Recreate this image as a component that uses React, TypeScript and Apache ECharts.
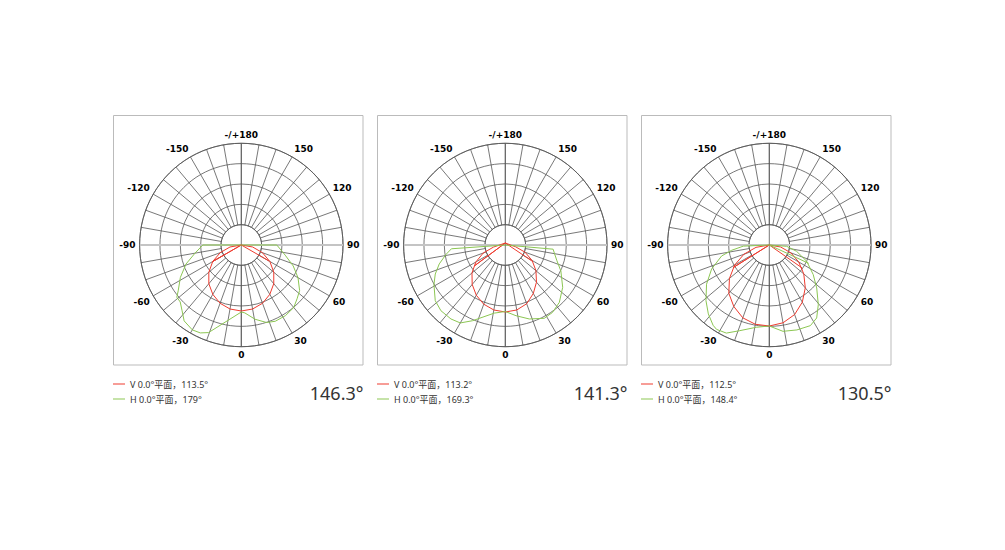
import React, { useEffect, useRef } from "react";
import * as echarts from "echarts";

// ---- data (angle in degrees, 0 = down, + to the right; value = intensity) ----
const ANGLE_TICKS = [0, 30, 60, 90, 120, 150, 180, 210, 240, 270, 300, 330];
const ANGLE_LABELS = ["0", "30", "60", "90", "120", "150", "-/+180", "-150", "-120", "-90", "-60", "-30"];

const V_NAMES = ["V 0.0°平面，113.5°", "V 0.0°平面，113.2°", "V 0.0°平面，112.5°"];
const H_NAMES = ["H 0.0°平面，179°", "H 0.0°平面，169.3°", "H 0.0°平面，148.4°"];
const BEAM_ANGLES = ["146.3°", "141.3°", "130.5°"];

const RED_1: number[][] = [
  [90, 0], [80, 11.5], [70, 22.5], [60, 33], [50, 42.4], [40, 50.5], [30, 57], [20, 62], [10, 65], [0, 66],
  [-10, 65], [-20, 62], [-30, 57], [-40, 50.5], [-50, 42.4], [-60, 33], [-70, 22.5], [-80, 11.5], [-90, 0],
  [-60, 33], [-90, 0], [60, 32],
];
const GREEN_1: number[][] = [
  [-90, 38.5], [-80, 47], [-71, 58.5], [-62, 69], [-54, 78], [-51, 83], [-47, 83.5], [-42, 88.5], [-37, 95],
  [-30, 98], [-25, 97], [-20.5, 93.5], [0, 67], [3, 68], [10.5, 75.5], [18, 81.5], [24, 83.5], [32, 83.3],
  [40, 81.6], [46, 77.5], [52, 74], [60, 65.5], [68, 56], [77, 45], [90, 35.5], [180, 0], [-90, 38.5],
];
const RED_2: number[][] = [
  [180, 2], [80, 10.5], [70, 21], [60, 31], [50, 40], [40, 48.5], [30, 56], [20, 62.5], [10, 66], [0, 67],
  [-10, 66], [-20, 63], [-30, 58], [-40, 51.5], [-50, 43.5], [-60, 34], [-70, 23.5], [-80, 12], [180, 2],
  [-56, 37], [180, 2], [59, 31],
];
const GREEN_2: number[][] = [
  [-86, 54], [-81, 60], [-74, 68.7], [-67.5, 75.8], [-61, 81.6], [-51.5, 89.5], [-44.4, 92], [-36.3, 91.8],
  [-30, 90], [-23.4, 82.5], [-9.2, 69], [0, 66.5], [8.6, 71.5], [18, 77.8], [28, 83], [35, 82.3],
  [43.3, 78.8], [53.6, 71.3], [65, 61.3], [73, 54], [80, 50], [85, 48], [180, 0], [-86, 54],
];
const RED_3: number[][] = [
  [90, 0], [80, 11.5], [70, 23], [60, 34], [50, 45], [40, 56], [30, 66], [20, 74], [10, 79], [0, 81],
  [-10, 80.5], [-20, 77.5], [-30, 71], [-40, 63], [-50, 52], [-60, 40], [-70, 27], [-80, 13.5], [-90, 0],
  [-58, 42.5], [-90, 0], [55, 40],
];
const GREEN_3: number[][] = [
  [180, 0], [-87.5, 26], [-82, 38], [-77, 49], [-67.4, 62.5], [-58, 74], [-48.7, 84.3], [-41.5, 92],
  [-35, 98], [-32, 99.5], [-26, 98], [-19, 90.6], [-9, 83.3], [0, 81], [9, 87.4], [18, 89.3], [27, 90.5],
  [33, 87], [39.4, 77.2], [47.8, 64], [56, 53], [66.5, 40.8], [77, 28], [85.7, 17.4], [180, 0], [65, 43.4],
];

const REDS = [RED_1, RED_2, RED_3];
const GREENS = [GREEN_1, GREEN_2, GREEN_3];

const RED = "#ee3b2f";
const GREEN = "#8cc653";
const GRID = "#555";
const CX = [241.3, 505.3, 769.3];
const CY = 245;
const R_OUT = 101.7;
const R_IN = 20.3;
const BOX_X = [113.5, 377.5, 641.5];

const toPolar = (pts: number[][]) => pts.map(([a, v]) => [v, a < 0 ? a + 360 : a]);

function buildOption() {
  const polar: any[] = [];
  const angleAxis: any[] = [];
  const radiusAxis: any[] = [];
  const series: any[] = [];
  const legend: any[] = [];
  const graphic: any[] = [];

  for (let i = 0; i < 3; i++) {
    polar.push({ center: [CX[i], CY], radius: [R_IN, R_OUT] });
    angleAxis.push({
      polarIndex: i,
      type: "value",
      min: 0,
      max: 360,
      interval: 10,
      startAngle: 270,
      clockwise: false,
      axisLine: { show: true, lineStyle: { color: GRID, width: 0.8 } },
      axisTick: { show: false },
      splitLine: { show: true, lineStyle: { color: GRID, width: 0.8 } },
      axisLabel: {
        show: true,
        margin: 4,
        color: "#000",
        fontSize: 9,
        fontWeight: "bold",
        fontFamily: "DejaVu Sans",
        formatter: (v: number) => {
          const a = Math.round(v);
          const idx = ANGLE_TICKS.indexOf(a);
          return idx >= 0 ? ANGLE_LABELS[idx] : "";
        },
      },
    });
    radiusAxis.push({
      polarIndex: i,
      type: "value",
      min: 0,
      max: 4,
      interval: 1,
      axisLine: { show: false },
      axisTick: { show: false },
      axisLabel: { show: false },
      splitLine: { show: true, lineStyle: { color: GRID, width: 0.8 } },
    });
  }
  for (let i = 0; i < 3; i++) {
    polar.push({ center: [CX[i], CY], radius: [0, R_OUT] });
    angleAxis.push({
      polarIndex: 3 + i,
      type: "value",
      min: 0,
      max: 360,
      startAngle: 270,
      clockwise: false,
      axisLine: { show: false },
      axisTick: { show: false },
      axisLabel: { show: false },
      splitLine: { show: false },
    });
    radiusAxis.push({
      polarIndex: 3 + i,
      type: "value",
      min: 0,
      max: R_OUT,
      axisLine: { show: false },
      axisTick: { show: false },
      axisLabel: { show: false },
      splitLine: { show: false },
    });
    series.push({
      type: "line",
      coordinateSystem: "polar",
      polarIndex: 3 + i,
      data: [[R_OUT, 90], [R_OUT, 270]],
      symbol: "none",
      silent: true,
      z: 1,
      lineStyle: { color: "#c4c4c4", width: 2 },
    });
    series.push({
      type: "line",
      coordinateSystem: "polar",
      polarIndex: 3 + i,
      data: [[R_OUT, 0], [R_OUT, 180]],
      symbol: "none",
      silent: true,
      z: 1,
      lineStyle: { color: GRID, width: 0.8 },
    });
    series.push({
      name: V_NAMES[i],
      type: "line",
      coordinateSystem: "polar",
      polarIndex: 3 + i,
      data: toPolar(REDS[i]),
      symbol: "none",
      color: RED,
      z: 3,
      lineStyle: { color: RED, width: 1 },
    });
    series.push({
      name: H_NAMES[i],
      type: "line",
      coordinateSystem: "polar",
      polarIndex: 3 + i,
      data: toPolar(GREENS[i]),
      symbol: "none",
      color: GREEN,
      z: 4,
      lineStyle: { color: GREEN, width: 1 },
    });
    legend.push({
      data: [V_NAMES[i], H_NAMES[i]],
      orient: "vertical",
      left: BOX_X[i] - 0.5,
      top: 379,
      icon: "rect",
      itemWidth: 12,
      itemHeight: 1,
      itemGap: 5,
      selectedMode: false,
      padding: 0,
      textStyle: { fontSize: 9, lineHeight: 10, color: "#333", fontFamily: "Noto Sans, Noto Sans CJK SC" },
    });
    graphic.push({
      type: "rect",
      shape: { x: BOX_X[i], y: 115.5, width: 249.5, height: 249.5 },
      style: { fill: "none", stroke: "#bbb", lineWidth: 1 },
      z: -1,
    });
    graphic.push({
      type: "text",
      x: BOX_X[i] + 250,
      y: 393,
      style: {
        text: BEAM_ANGLES[i],
        fill: "#333",
        fontSize: 18,
        fontFamily: "Noto Sans",
        align: "right",
        verticalAlign: "middle",
      },
    });
  }

  return { animation: false, polar, angleAxis, radiusAxis, series, legend, graphic };
}

export default function App() {
  const ref = useRef<HTMLDivElement>(null);
  useEffect(() => {
    if (!ref.current) return;
    const chart = echarts.init(ref.current, null, { renderer: "svg" });
    chart.setOption(buildOption() as any);
    return () => chart.dispose();
  }, []);
  return (
    <div
      ref={ref}
      style={{ position: "absolute", left: 0, top: 0, width: 1005, height: 550, background: "#fff" }}
    />
  );
}
